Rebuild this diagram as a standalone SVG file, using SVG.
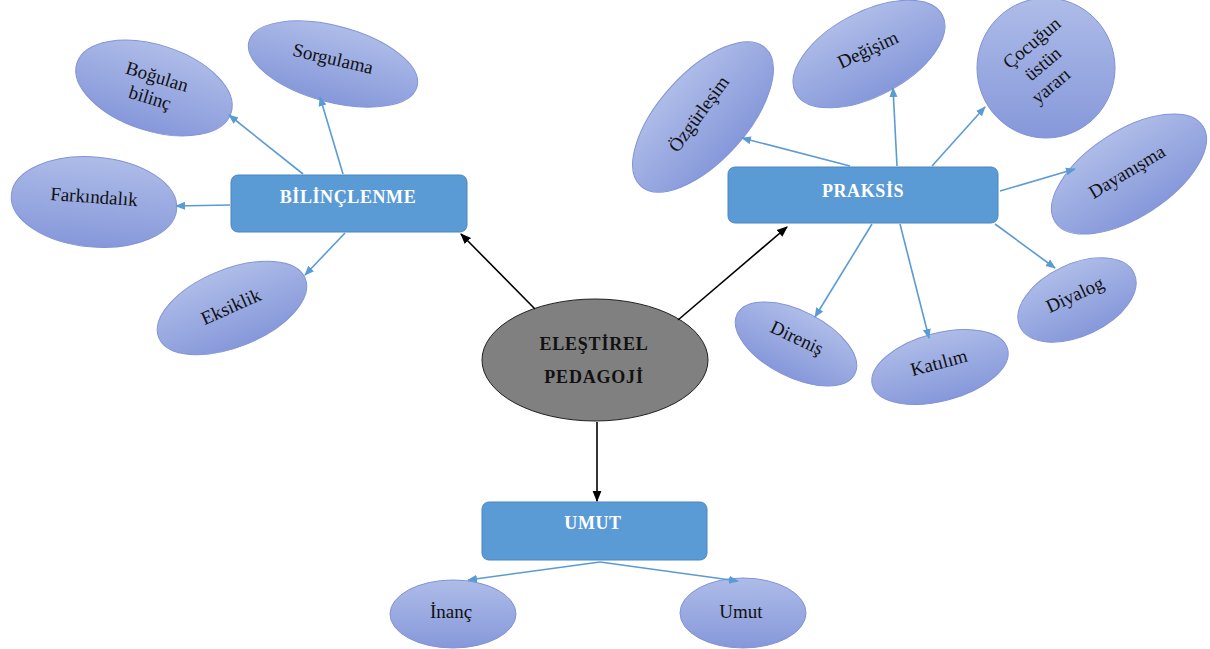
<svg xmlns="http://www.w3.org/2000/svg" width="1210" height="649" viewBox="0 0 1210 649">
<defs>
<linearGradient id="eg" x1="0" y1="0" x2="0" y2="1">
<stop offset="0" stop-color="#AEBCE8"/>
<stop offset="1" stop-color="#8698DA"/>
</linearGradient>
<marker id="ab" viewBox="0 0 10 10" refX="9" refY="5" markerWidth="10" markerHeight="10" markerUnits="userSpaceOnUse" orient="auto">
<path d="M0,1 L10,5 L0,9 Z" fill="#5B9BD5"/>
</marker>
<marker id="ak" viewBox="0 0 10 10" refX="9" refY="5" markerWidth="11" markerHeight="11" markerUnits="userSpaceOnUse" orient="auto">
<path d="M0,1 L10,5 L0,9 Z" fill="#000"/>
</marker>
<style>
.el{fill:url(#eg);stroke:#8193D6;stroke-width:1}
.bx{fill:#5B9BD5;stroke:#4A86C2;stroke-width:1}
.lt{font-family:"Liberation Serif",serif;font-size:19px;fill:#111;text-anchor:middle}
.bt{font-family:"Liberation Serif",serif;font-size:18px;font-weight:bold;fill:#fff;text-anchor:middle;letter-spacing:0.6px}
.ct{font-family:"Liberation Serif",serif;font-size:18px;font-weight:bold;fill:#111;text-anchor:middle;letter-spacing:0.8px}
.cb{stroke:#5B9BD5;stroke-width:1.6;fill:none;marker-end:url(#ab)}
.ck{stroke:#000;stroke-width:1.6;fill:none;marker-end:url(#ak)}
</style>
</defs>

<g id="center">
<ellipse cx="595" cy="360" rx="113" ry="61" fill="#808080" stroke="#222" stroke-width="1"/>
<text class="ct" x="594" y="350">ELEŞTİREL</text>
<text class="ct" x="594" y="383">PEDAGOJİ</text>
</g>

<g id="bilinclenme">
<rect class="bx" x="231" y="175" width="236" height="57" rx="7"/>
<text class="bt" x="348" y="203">BİLİNÇLENME</text>
</g>

<g id="praksis">
<rect class="bx" x="728" y="167" width="270" height="56" rx="7"/>
<text class="bt" x="863" y="197">PRAKSİS</text>
</g>

<g id="umut-box">
<rect class="bx" x="482" y="502" width="225" height="58" rx="7"/>
<text class="bt" x="593" y="529">UMUT</text>
</g>

<g id="bogulan">
<ellipse class="el" cx="154" cy="88" rx="81" ry="43" transform="rotate(18 154 88)"/>
<text class="lt" x="157" y="83" transform="rotate(17 157 77)">Boğulan</text>
<text class="lt" x="150" y="104" transform="rotate(17 150 98)">bilinç</text>
</g>

<g id="sorgulama">
<ellipse class="el" cx="333" cy="64" rx="87" ry="38" transform="rotate(15 333 64)"/>
<text class="lt" x="333" y="65" transform="rotate(13 333 59)">Sorgulama</text>
</g>

<g id="farkindalik">
<ellipse class="el" cx="94" cy="202" rx="83" ry="45" transform="rotate(5 94 202)"/>
<text class="lt" x="94" y="203" transform="rotate(4 94 197)">Farkındalık</text>
</g>

<g id="eksiklik">
<ellipse class="el" cx="232" cy="308" rx="79" ry="39" transform="rotate(-22 232 308)"/>
<text class="lt" x="231" y="313" transform="rotate(-24 231 307)">Eksiklik</text>
</g>

<g id="ozgurlesim">
<ellipse class="el" cx="703" cy="117" rx="93" ry="44" transform="rotate(-48 703 117)"/>
<text class="lt" x="699" y="120" transform="rotate(-54 699 114)">Özgürleşim</text>
</g>

<g id="degisim">
<ellipse class="el" cx="869" cy="54" rx="83" ry="42" transform="rotate(-28 869 54)"/>
<text class="lt" x="868" y="56" transform="rotate(-25 868 50)">Değişim</text>
</g>

<g id="cocugun">
<ellipse class="el" cx="1046" cy="68" rx="69" ry="70"/>
<text class="lt" x="1032" y="49" transform="rotate(-40 1032 43)">Çocuğun</text>
<text class="lt" x="1043" y="70" transform="rotate(-40 1043 64)">üstün</text>
<text class="lt" x="1051" y="92" transform="rotate(-40 1051 86)">yararı</text>
</g>

<g id="dayanisma">
<ellipse class="el" cx="1129" cy="174" rx="88" ry="43" transform="rotate(-33 1129 174)"/>
<text class="lt" x="1127" y="178" transform="rotate(-31 1127 172)">Dayanışma</text>
</g>

<g id="diyalog">
<ellipse class="el" cx="1077" cy="300" rx="63" ry="36" transform="rotate(-25 1077 300)"/>
<text class="lt" x="1075" y="301" transform="rotate(-25 1075 295)">Diyalog</text>
</g>

<g id="direnis">
<ellipse class="el" cx="796" cy="344" rx="66" ry="33" transform="rotate(27 796 344)"/>
<text class="lt" x="797" y="344" transform="rotate(25 797 338)">Direniş</text>
</g>

<g id="katilim">
<ellipse class="el" cx="940" cy="367" rx="70" ry="34" transform="rotate(-15 940 367)"/>
<text class="lt" x="939" y="369" transform="rotate(-15 939 363)">Katılım</text>
</g>

<g id="inanc">
<ellipse class="el" cx="453" cy="614" rx="63" ry="34"/>
<text class="lt" x="451" y="618">İnanç</text>
</g>

<g id="umut">
<ellipse class="el" cx="743" cy="613" rx="63" ry="35"/>
<text class="lt" x="741" y="618">Umut</text>
</g>

<g id="connectors">
<line class="ck" x1="535" y1="309" x2="461" y2="234"/>
<line class="ck" x1="678" y1="320" x2="787" y2="227"/>
<line class="ck" x1="597" y1="422" x2="597" y2="501"/>
<line class="cb" x1="303" y1="174" x2="229" y2="115"/>
<line class="cb" x1="343" y1="174" x2="320" y2="97"/>
<line class="cb" x1="230" y1="205" x2="176" y2="206"/>
<line class="cb" x1="345" y1="233" x2="305" y2="275"/>
<line class="cb" x1="850" y1="166" x2="742" y2="138"/>
<line class="cb" x1="897" y1="166" x2="893" y2="88"/>
<line class="cb" x1="932" y1="166" x2="985" y2="107"/>
<line class="cb" x1="1000" y1="191" x2="1075" y2="169"/>
<line class="cb" x1="995" y1="224" x2="1055" y2="268"/>
<line class="cb" x1="900" y1="224" x2="929" y2="338"/>
<line class="cb" x1="872" y1="224" x2="815" y2="317"/>
<line class="cb" x1="600" y1="562" x2="468" y2="580"/>
<line class="cb" x1="600" y1="562" x2="738" y2="581"/>
</g>
</svg>
